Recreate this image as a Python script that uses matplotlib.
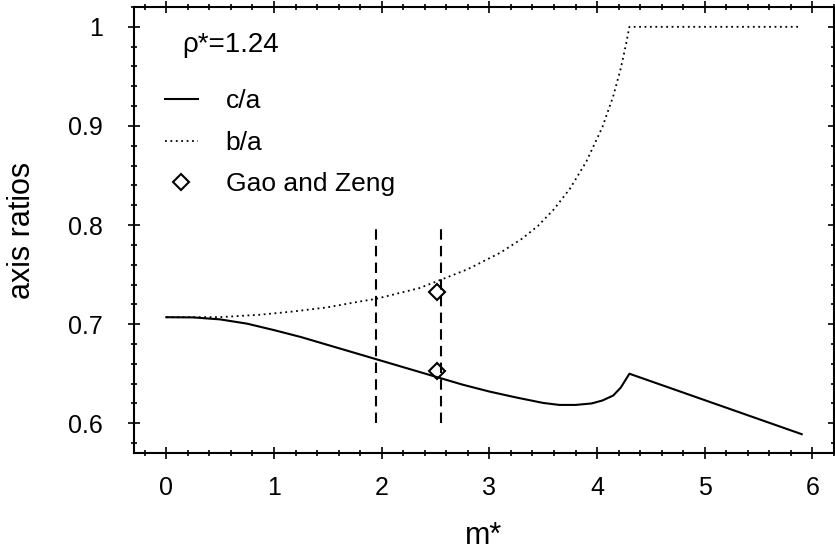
import numpy as np
import matplotlib.pyplot as plt
from matplotlib.ticker import MultipleLocator

plt.rcParams['font.family'] = ['Liberation Sans', 'DejaVu Sans']

# c/a curve
ca_x = [0, 0.25, 0.5, 0.75, 1.0, 1.25, 1.5, 1.75, 2.0, 2.25, 2.5, 2.75,
        3.0, 3.25, 3.5, 3.65, 3.8, 3.95, 4.05, 4.15, 4.22, 4.3, 5.9]
ca_y = [0.707, 0.7068, 0.7048, 0.7005, 0.694, 0.687, 0.679, 0.671, 0.663, 0.655, 0.647, 0.639,
        0.632, 0.626, 0.6205, 0.6185, 0.6185, 0.620, 0.623, 0.628, 0.636, 0.650, 0.589]

# b/a curve
ba_x = [0, 0.5, 0.87, 1.18, 1.49, 1.8, 1.95, 2.35, 2.55, 2.8, 3.1, 3.3,
        3.45, 3.6, 3.75, 3.9, 4.05, 4.15, 4.22, 4.27, 4.3, 5.88]
ba_y = [0.707, 0.7071, 0.7095, 0.7128, 0.7169, 0.7229, 0.7256, 0.7364, 0.7448, 0.7555, 0.772, 0.786,
        0.799, 0.816, 0.837, 0.864, 0.899, 0.93, 0.958, 0.983, 1.0, 1.0]

# Gao and Zeng points
gz_x = [2.51, 2.51]
gz_y = [0.732, 0.653]

# dashed markers
vlines_x = [1.95, 2.55]
vlines_y = [0.60, 0.80]

fig = plt.figure(figsize=(8.35, 5.56), dpi=100)
ax = fig.add_axes([134 / 835, 103 / 556, 700 / 835, 446 / 556])

ax.plot(ca_x, ca_y, color="black", lw=1.5, label="c/a")
ax.plot(ba_x, ba_y, color="black", lw=1.3, linestyle=(0, (1, 2)), label="b/a")
ax.plot(gz_x, gz_y, "D", color="black", mfc="none", mew=1.5, ms=8.5, label="Gao and Zeng")
for xv in vlines_x:
    ax.plot([xv, xv], vlines_y, color="black", lw=1.5, linestyle=(0, (5, 3)))

ax.text(0.148, 0.975, "\u03c1*=1.24", fontsize=20, ha="left", va="baseline")

ax.set_xlim(-0.3, 6.2)
ax.set_ylim(0.57, 1.02)
ax.xaxis.set_major_locator(MultipleLocator(1))
ax.xaxis.set_minor_locator(MultipleLocator(0.2))
ax.yaxis.set_minor_locator(MultipleLocator(0.02))
ax.set_yticks([0.6, 0.7, 0.8, 0.9, 1.0])
ax.set_yticklabels(["0.6", "0.7", "0.8", "0.9", "1"])

ax.tick_params(which="both", direction="inout", top=True, right=True, width=1.2)
ax.tick_params(which="major", length=9, labelsize=18)
ax.tick_params(axis="x", which="major", pad=12)
ax.tick_params(axis="y", which="major", pad=18)
ax.tick_params(which="minor", length=4)
for s in ax.spines.values():
    s.set_linewidth(1.5)

ax.set_xlabel("m*", fontsize=22, labelpad=15)
ax.set_ylabel("axis ratios", fontsize=22, labelpad=22)

ax.legend(loc="upper left", bbox_to_anchor=(0.029, 0.839), frameon=False, fontsize=19,
          handlelength=1.25, handletextpad=1.06, labelspacing=0.66, borderaxespad=0.0)

plt.savefig("out.png", dpi=100)
